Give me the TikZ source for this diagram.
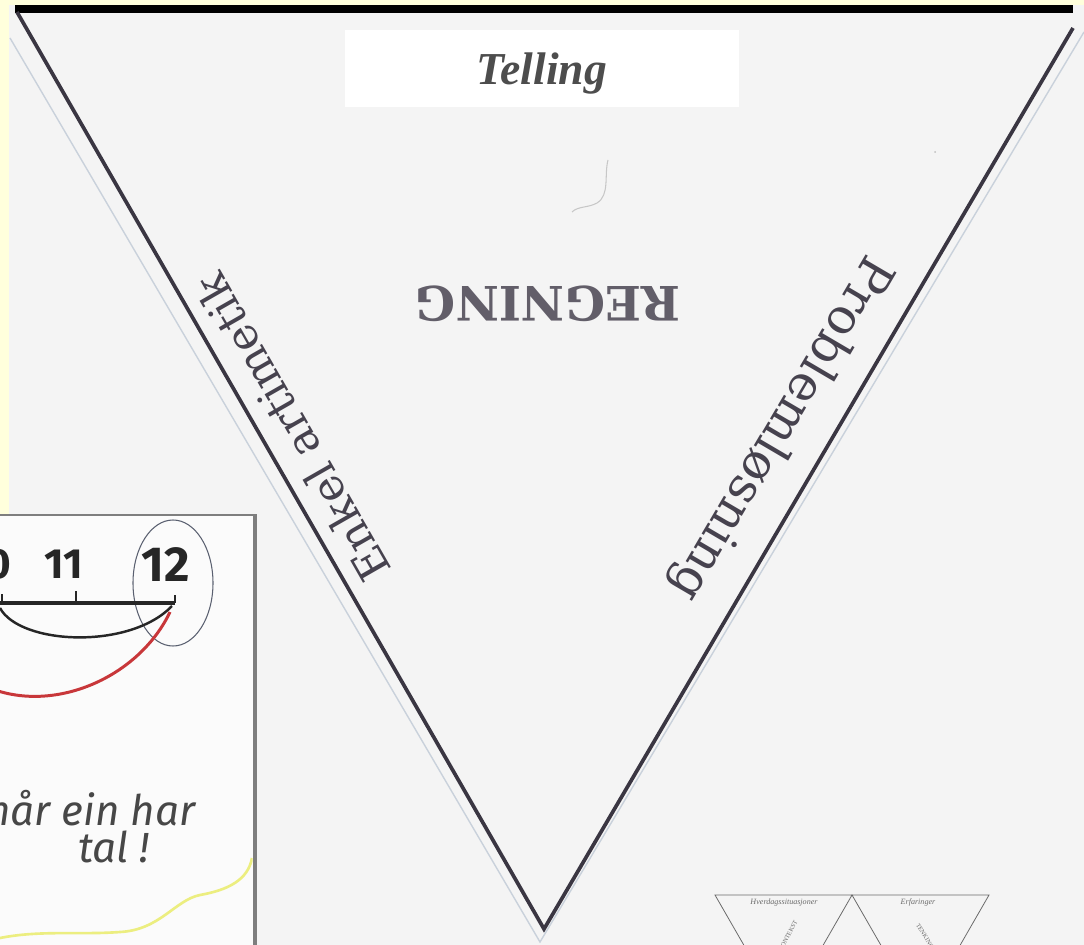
\documentclass[tikz,border=0pt]{standalone}
\usepackage{fontspec}
\setmainfont{Liberation Serif}
\newfontfamily\slabfont{DejaVu Serif}
\newfontfamily\handfont{Fira Sans}
\usepackage{xcolor}
\definecolor{PaperGray}{HTML}{F4F4F4}
\definecolor{SlideYellow}{HTML}{FFFFDC}
\definecolor{InkDark}{HTML}{3A3642}
\definecolor{InkSoft}{HTML}{46424E}
\definecolor{EdgeLight}{HTML}{C9D1DB}
\definecolor{TitleGray}{HTML}{4D4D4D}
\definecolor{FrameGray}{HTML}{7E7E7E}
\definecolor{InsetWhite}{HTML}{FBFBFB}
\definecolor{PenBlack}{HTML}{262626}
\definecolor{PenRed}{HTML}{C8373A}
\definecolor{PenYellow}{HTML}{ECEE80}
\definecolor{PenBlue}{HTML}{5A6070}
\definecolor{ThumbGray}{HTML}{6A6A6A}
\usetikzlibrary{calc}
\tikzset{
  top bar/.style={line width=4pt, draw=black},
  edge line/.style={line width=2.1pt, draw=InkDark},
  paper edge/.style={line width=0.8pt, draw=EdgeLight},
  title box/.style={rectangle, fill=white, minimum width=7.88cm, minimum height=1.56cm, inner sep=0pt},
  title text/.style={font=\bfseries\itshape\fontsize{26}{30}\selectfont, text=TitleGray, inner sep=0pt},
  centre word/.style={font=\slabfont\bfseries\fontsize{27}{30}\selectfont, text=InkSoft!85, inner sep=0pt},
  side label/.style={font=\slabfont\fontsize{#1}{#1}\selectfont, text=InkSoft, inner sep=0pt},
  frame top/.style={line width=1.7pt, draw=FrameGray},
  frame side/.style={line width=2.8pt, draw=FrameGray},
  hand digit/.style={font=\handfont\bfseries\fontsize{#1}{#1}\selectfont, text=PenBlack, inner sep=0pt},
  hand text/.style={font=\handfont\itshape\fontsize{24}{28}\selectfont, text=PenBlack!85, inner sep=0pt},
  pen thick/.style={line width=2.4pt, draw=PenBlack},
  pen/.style={line width=1.4pt, draw=PenBlack},
  pen red/.style={line width=1.7pt, draw=PenRed},
  pen yellow/.style={line width=1.5pt, draw=PenYellow},
  pen ring/.style={line width=0.6pt, draw=PenBlue},
  faint ink/.style={line width=0.6pt, draw=black!22},
  thumb line/.style={line width=0.45pt, draw=ThumbGray},
  thumb caption/.style={font=\itshape\fontsize{4.6}{5}\selectfont, text=ThumbGray, inner sep=0pt},
  thumb word/.style={font=\fontsize{3.6}{4}\selectfont, text=ThumbGray, inner sep=0pt},
}

\begin{document}
\begin{tikzpicture}[x=0.02cm, y=-0.02cm]
  \useasboundingbox (0,0) rectangle (1084,945);
  \clip (0,0) rectangle (1084,945);

  % ── Background ────────────────────────────────────────────────────────────
  \fill[SlideYellow] (0,0) rectangle (1084,945);
  \fill[PaperGray] (9,5) rectangle (1084,945);

  % ── Top bar ───────────────────────────────────────────────────────────────
  \coordinate (barL) at (15,9);
  \coordinate (barR) at (1073,9);
  \draw[top bar] (barL) -- (barR);

  % ── Paper triangle ────────────────────────────────────────────────────────
  \coordinate (paperL)   at (10,38);
  \coordinate (paperR)   at (1084,32);
  \coordinate (paperTip) at (540,942);
  \coordinate (apexL)    at (17,12);
  \coordinate (apexR)    at (1073,28);
  \coordinate (tip)      at (544,929);
  \draw[paper edge] (paperL) -- (paperTip) -- (paperR);
  \draw[edge line]  (apexL) -- (tip) -- (apexR);

  % ── Title ─────────────────────────────────────────────────────────────────
  \node[title box] (titlebox) at (542,68.5) {};
  \node[title text, anchor=base] (title) at (542,85) {Telling};

  % ── Sheet texts ───────────────────────────────────────────────────────────
  \node[centre word, rotate=180] (regning) at (548,304) {REGNING};
  \node[side label=25, rotate=119.8]  (enkel)   at (292,428) {Enkel artimetik};
  \node[side label=28, rotate=-120.4] (problem) at (780,428) {Problemløsning};

  \draw[faint ink] (608,160) .. controls (604,175) and (610,195) .. (597,203)
                   .. controls (588,208) and (578,206) .. (572,212);
  \fill[black!25] (935,152) circle (1);

  % ── Inset photo ───────────────────────────────────────────────────────────
  \fill[InsetWhite] (0,515) rectangle (255,945);
  \draw[frame top]  (0,515) -- (256.5,515);
  \draw[frame side] (255,514) -- (255,945);

  \begin{scope}
    \clip (0,516.5) rectangle (252.5,945);
    \node[hand digit=24] (ten)    at (-11,564) {10};
    \node[hand digit=24] (eleven) at (64,564)  {11};
    \node[hand digit=28] (twelve) at (166,565) {12};
    \draw[pen ring] (173,583) ellipse [x radius=40, y radius=63];

    \coordinate (lineL) at (-10,603);
    \coordinate (lineR) at (175,603);
    \draw[pen thick] (lineL) -- (lineR);
    \draw[pen] (2,594) -- (2,603);
    \draw[pen] (76,591) -- (76,603);
    \draw[pen] (175,595) -- (175,603);

    \draw[pen] (0,608) .. controls (20,645) and (130,650) .. (172,606);
    \draw[pen red] (170,612) .. controls (140,675) and (60,712) .. (-5,690);

    \node[hand text, anchor=base west] (phrase) at (-14,825) {når ein har};
    \node[hand text, anchor=base west] (tal)    at (78,862)  {tal !};
    \draw[pen yellow] (252,858) .. controls (248,880) and (228,890) .. (200,895)
                      .. controls (175,900) and (160,930) .. (120,932)
                      .. controls (80,935) and (40,930) .. (0,938);
  \end{scope}

  % ── Thumbnail triangles ───────────────────────────────────────────────────
  \coordinate (thumbA)    at (715,895);
  \coordinate (thumbB)    at (852,895);
  \coordinate (thumbC)    at (989,895);
  \coordinate (thumbTipA) at (783.5,1014);
  \coordinate (thumbTipB) at (920.5,1014);
  \draw[thumb line] (thumbTipA) -- (thumbA) -- (thumbC) -- (thumbTipB) -- (thumbB) -- (thumbTipA);
  \node[thumb caption] (hverdag)  at (784,903) {Hverdagssituasjoner};
  \node[thumb caption] (erfaring) at (918,903) {Erfaringer};
  \node[thumb word, rotate=62]  (kontekst) at (788,936) {KONTEKST};
  \node[thumb word, rotate=-58] (tenking)  at (925,936) {TENKING};

\end{tikzpicture}
\end{document}
